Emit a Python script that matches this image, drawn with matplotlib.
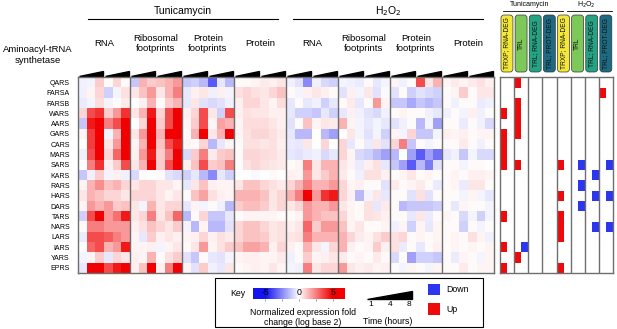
import numpy as np
import matplotlib
matplotlib.use('Agg')
import matplotlib.pyplot as plt
from matplotlib.colors import LinearSegmentedColormap, Normalize
from matplotlib.patches import Rectangle, Polygon, FancyBboxPatch

plt.rcParams['font.family'] = ['Liberation Sans', 'DejaVu Sans']

genes = ['QARS', 'FARSA', 'FARSB', 'WARS', 'AARS', 'GARS', 'CARS', 'MARS', 'SARS', 'KARS',
         'RARS', 'HARS', 'DARS', 'TARS', 'NARS', 'LARS', 'IARS', 'YARS', 'EPRS']
block_labels = ['RNA', 'Ribosomal\nfootprints', 'Protein\nfootprints', 'Protein'] * 2
treatments = ['Tunicamycin', 'H$_2$O$_2$']

# log2 fold change, 6 columns per block: replicate 1 (1, 4, 8 h), replicate 2 (1, 4, 8 h)
tun_rna = [
    [-0.3, -0.2, 1.0, 0.1, 0.8, 0.1],
    [-0.3, 0.2, 0.8, -1.0, -0.2, 0.6],
    [-0.4, -0.2, 0.7, -0.2, 0.1, 0.4],
    [0.8, 3.5, 4.0, 1.0, 2.0, 4.0],
    [-1.2, 4.5, 5.0, 2.5, 3.5, 5.0],
    [0.2, 3.8, 5.0, -0.2, 1.5, 5.0],
    [0.0, 3.8, 5.0, 0.5, 2.0, 5.0],
    [-0.3, 3.5, 5.0, 0.8, 3.0, 5.0],
    [0.0, 2.5, 4.0, 0.3, 1.0, 3.5],
    [-1.2, -0.3, 1.0, -0.2, 0.3, -0.3],
    [0.2, 1.5, 2.2, 1.2, 1.5, 0.8],
    [0.5, 1.5, 1.2, 0.8, 0.8, 0.5],
    [0.2, 2.0, 1.5, 2.0, 1.0, 1.2],
    [-1.0, 3.5, 5.0, 2.0, 2.8, 4.5],
    [0.1, 2.5, 2.5, 2.0, 2.0, 2.0],
    [-0.4, 3.5, 3.5, 3.2, 2.5, 2.0],
    [0.0, 3.0, 3.5, 1.5, 2.0, 4.5],
    [-0.2, 0.2, 1.0, -0.5, 0.8, 0.5],
    [-0.5, 5.0, 5.0, 3.5, 4.5, 5.0],
]
tun_ribo = [
    [-1.2, 1.5, 1.0, 1.2, 1.5, 2.0],
    [0.5, 1.2, 2.0, 0.5, 1.5, 2.5],
    [0.0, 0.3, 1.5, 0.1, 1.0, 1.5],
    [0.5, 1.5, 4.5, 0.8, 3.5, 5.0],
    [0.0, 0.8, 5.0, 1.0, 3.5, 5.0],
    [0.5, 2.0, 5.0, 1.5, 5.0, 5.0],
    [0.2, 1.5, 5.0, 1.2, 3.5, 4.5],
    [0.3, 2.0, 4.5, 1.0, 2.5, 5.0],
    [0.5, 1.5, 5.0, 1.0, 3.5, 5.0],
    [-0.8, 0.1, 0.0, 0.1, -0.6, -0.8],
    [0.5, 0.8, 0.8, 0.5, 0.5, 0.2],
    [0.8, 0.8, 0.8, 0.5, 0.2, 0.5],
    [0.5, -0.2, 1.5, 0.5, 0.8, 0.8],
    [0.5, 0.8, 2.5, 0.5, 1.2, 3.0],
    [0.3, 0.6, 1.2, 0.8, 0.5, 1.0],
    [0.2, -0.5, 1.0, 0.3, 0.5, 0.3],
    [0.2, 0.2, 0.3, -0.2, 0.2, 0.5],
    [0.3, 0.2, 1.5, 0.1, 0.6, 1.0],
    [0.3, 1.2, 5.0, 0.3, 2.5, 5.0],
]
tun_protfp = [
    [-1.2, -1.0, -1.5, -3.5, -0.5, -1.5],
    [-0.5, 0.3, 0.5, -0.3, 0.3, -0.2],
    [-0.5, 0.5, -0.6, -0.8, -0.6, -0.3],
    [0.3, 0.8, 3.5, 0.5, -1.0, 3.5],
    [0.2, 1.0, 3.5, 0.2, 1.8, 1.5],
    [0.1, 1.5, 5.0, 0.5, 1.5, 5.0],
    [0.2, 0.1, 0.8, -1.5, -0.5, 0.2],
    [-0.8, 1.0, 2.5, 0.4, 1.0, 1.2],
    [0.3, 1.2, 3.5, 1.0, 1.2, 2.5],
    [-1.0, -0.5, -1.5, -2.5, -0.5, -1.0],
    [-0.5, 0.5, 1.2, 0.3, 0.2, 0.2],
    [0.1, 1.2, 1.8, 0.6, 0.3, 0.2],
    [-0.5, 0.2, -0.2, 0.1, -0.3, -1.5],
    [-1.5, 0.1, 0.8, -1.2, -1.2, -0.5],
    [-0.2, -1.5, 0.2, -1.5, -1.5, -0.6],
    [0.2, 0.3, 0.8, 0.3, 0.6, 0.4],
    [0.1, 0.5, 2.0, 0.2, 0.6, 1.0],
    [-0.6, -1.2, 0.1, -0.5, -0.6, -0.2],
    [0.2, -0.6, 1.0, -0.3, -0.5, 0.5],
]
tun_prot = [
    [0.1, 0.1, 0.2, 0.4, 0.3, 0.5],
    [0.6, 0.8, 0.6, 0.5, 0.8, 1.2],
    [0.3, 0.8, 0.8, 0.5, 0.2, 0.7],
    [0.3, 0.6, 0.5, 0.5, 0.3, 0.3],
    [0.2, 0.7, 0.7, 0.7, 0.5, 0.3],
    [0.2, 0.6, 0.8, 0.8, 0.6, 0.4],
    [0.1, 0.6, 0.6, 0.5, 0.6, 0.3],
    [0.1, 0.8, 0.8, 0.7, 0.6, 0.4],
    [0.1, 0.6, 0.8, 0.6, 0.5, 0.4],
    [0.0, 0.0, -0.1, 0.0, 0.1, 0.0],
    [0.5, 1.2, 1.2, 0.8, 0.6, 0.4],
    [1.5, 1.5, 1.5, 1.2, 0.5, 0.8],
    [1.0, 1.3, 1.3, 1.0, 0.5, 0.8],
    [0.1, 0.2, 0.2, 0.2, 0.2, 0.1],
    [0.8, 1.2, 1.2, 0.8, 0.5, 0.6],
    [0.8, 1.2, 1.2, 1.0, 0.5, 0.6],
    [1.2, 1.8, 1.8, 1.5, 0.3, 0.8],
    [0.2, 0.3, 0.3, 0.2, 0.2, 0.4],
    [0.1, 0.2, 0.3, 0.2, 0.5, 0.2],
]
h2o2_rna = [
    [-0.3, -0.6, -2.5, -0.3, -0.8, -1.0],
    [0.1, -0.2, 0.3, 0.5, 0.3, 0.1],
    [-0.5, 0.1, -0.5, -0.3, -1.0, -0.5],
    [-0.5, -1.0, -1.0, -1.2, -0.5, -1.0],
    [-0.6, 0.1, 1.2, 0.2, 0.5, 0.4],
    [-0.5, -1.5, -1.5, 0.0, -1.5, -2.0],
    [-0.4, -0.5, 0.5, 0.0, 0.8, 0.0],
    [-0.5, -0.6, -0.4, -0.3, -0.8, -0.5],
    [0.1, 0.2, 2.5, 0.5, 1.5, 1.5],
    [0.3, 0.2, 2.0, 0.5, 1.0, 1.5],
    [0.8, 1.5, 2.5, 1.5, 1.5, 2.0],
    [1.5, 2.5, 5.0, 2.0, 4.0, 4.5],
    [0.5, 0.8, 2.0, 1.5, 1.5, 2.0],
    [0.1, 0.2, 2.0, 1.5, 1.2, 1.2],
    [0.3, 0.5, 3.0, 1.0, 2.0, 2.0],
    [0.5, 0.6, 2.5, 1.5, 1.5, 1.5],
    [0.3, 0.1, 1.5, 0.5, -0.2, 0.8],
    [-0.3, 0.1, 1.0, 0.2, 0.3, 0.5],
    [-0.2, -0.3, 2.5, 0.5, 0.8, 0.8],
]
h2o2_ribo = [
    [-0.2, -0.3, -0.4, 0.1, -0.5, -0.2],
    [-0.6, 0.3, -0.2, 0.5, -0.6, -0.1],
    [0.1, 0.4, -0.5, 0.1, 2.0, 0.2],
    [-0.5, 0.3, -0.3, -0.6, -0.8, -0.3],
    [1.5, 0.2, -0.2, -0.5, -0.2, -0.5],
    [0.0, 0.5, -0.2, -0.6, -0.2, -1.0],
    [0.8, -0.5, 0.1, -0.4, 0.5, -0.6],
    [0.8, 0.2, -0.8, -1.0, -1.5, -2.0],
    [0.5, 0.2, -0.4, 0.3, 0.6, -0.5],
    [0.4, 0.1, -0.3, 0.6, 0.6, 0.3],
    [0.8, 0.2, 0.3, 0.1, 0.1, -0.6],
    [0.8, 0.3, -1.5, -0.2, 0.5, -0.5],
    [0.5, 0.2, 0.1, 0.6, -0.5, 0.4],
    [0.8, 0.2, 0.1, 0.6, 0.5, 0.3],
    [1.2, 0.2, 0.5, 0.1, 0.1, 0.2],
    [1.5, 0.8, 0.4, 0.2, 0.6, 1.0],
    [1.5, 0.3, 0.1, 0.2, 1.0, 0.3],
    [0.4, 0.1, 0.2, 0.1, 0.4, 0.1],
    [2.0, 0.5, 0.3, 0.4, 0.2, 0.3],
]
h2o2_protfp = [
    [0.2, -0.3, 0.1, 3.5, 0.5, 1.5],
    [-0.6, 0.1, -1.0, -0.6, -0.8, -1.0],
    [-1.2, -1.2, -1.8, -1.2, -1.5, -1.2],
    [0.1, 0.2, 0.1, 0.1, -0.3, -0.5],
    [-0.6, -0.3, 0.1, -1.5, -0.2, -2.0],
    [0.2, -0.2, 0.8, -1.2, -1.2, -0.2],
    [0.8, 2.5, -1.2, 0.1, -0.2, 0.1],
    [-1.5, 0.0, -2.0, -3.5, -2.0, -3.0],
    [-1.2, -2.0, -3.5, -1.5, -2.8, -0.6],
    [0.1, 0.2, 0.5, 0.1, 0.2, 0.1],
    [0.4, 0.1, 0.2, 0.4, 0.1, -0.4],
    [0.1, 0.1, -0.6, 0.6, -0.6, 0.1],
    [0.1, -1.5, -1.2, -1.2, -1.2, -1.0],
    [0.1, 0.1, -0.5, 0.5, -0.4, 0.1],
    [-0.3, 0.2, -1.0, 0.2, -0.5, 0.2],
    [0.6, 0.8, 0.1, 0.2, 0.1, 0.2],
    [0.6, -0.4, 0.1, -0.5, 0.1, 0.3],
    [-0.8, 0.1, -2.0, -1.0, -1.0, -1.2],
    [0.1, -0.2, 0.2, 0.1, -0.2, 0.2],
]
h2o2_prot = [
    [0.2, 0.4, 0.2, 0.4, 0.6, 0.3],
    [0.1, 0.2, 1.0, 0.1, 0.5, 0.5],
    [0.1, -0.3, 0.1, 0.1, -0.4, -0.3],
    [-0.3, 0.1, -0.2, 0.3, -0.3, 0.1],
    [0.1, 0.1, -0.4, 0.1, -0.3, -0.8],
    [0.3, 0.2, 0.3, 0.1, 0.2, 0.2],
    [0.1, 0.1, 0.4, 0.1, -0.3, 0.1],
    [-0.5, -0.3, -1.2, -0.2, -0.8, -0.8],
    [0.1, 0.1, -0.2, 0.1, 0.1, 0.0],
    [0.1, 0.2, 0.1, 0.3, 0.3, 0.2],
    [0.1, 0.2, -0.4, 0.5, 0.5, 0.1],
    [0.1, 0.1, -0.2, 0.2, -0.2, -0.5],
    [0.1, -0.5, 0.2, 0.1, 0.1, -0.2],
    [0.2, 0.1, -0.8, -0.2, -1.0, -0.2],
    [0.1, 0.1, -1.0, 0.1, -0.2, 0.1],
    [0.1, 0.2, 0.1, 0.6, 0.2, -0.3],
    [0.1, 0.2, 0.1, 0.2, 0.1, 0.2],
    [0.1, -0.4, 0.2, 0.1, -0.2, 0.2],
    [0.1, 0.1, 0.4, 0.1, 0.2, 0.2],
]

# right panel: regulatory classes, rows flagged up / down
class_labels = ['TRXP; RNA-DEG', 'TRL', 'TRL; RNA-DEG', 'TRL; PROT-DEG'] * 2
class_colors = ['#f3e83a', '#7cc95a', '#23a383', '#1d6a83'] * 2
up_rows = [[3, 5, 6, 7, 8, 13, 16, 18], [0, 2, 3, 4, 5, 8, 17], [], [],
           [8, 11, 13, 14, 15, 18], [], [], [1]]
down_rows = [[], [16], [], [], [], [8, 10, 12], [9, 11, 14], [8, 11, 14]]

data = np.hstack([np.array(b) for b in [tun_rna, tun_ribo, tun_protfp, tun_prot,
                                        h2o2_rna, h2o2_ribo, h2o2_protfp, h2o2_prot]])

cmap = LinearSegmentedColormap.from_list('key', ['#1414f0', '#ffffff', '#f00000'])
norm = Normalize(vmin=-5, vmax=5)
red, blue = '#ee0a0a', '#2b36ee'
grid_col = '#6e6e6e'

W, H = 617, 329
fig = plt.figure(figsize=(W / 100, H / 100), dpi=100)

def box(x0, y0, x1, y1):
    # pixel box (top-left origin) -> figure fraction rect
    return [x0 / W, 1 - y1 / H, (x1 - x0) / W, (y1 - y0) / H]

# overlay in pixel coordinates for headers and the key
ax0 = fig.add_axes([0, 0, 1, 1])
ax0.set_xlim(0, W)
ax0.set_ylim(H, 0)
ax0.axis('off')

# heatmap
ax = fig.add_axes(box(78, 77.3, 494, 273))
ax.imshow(data, cmap=cmap, norm=norm, aspect='auto', interpolation='nearest')
ax.set_xticks([])
ax.set_yticks(range(len(genes)))
ax.set_yticklabels(genes, fontsize=5)
ax.tick_params(axis='y', length=0, pad=6)
for s in ax.spines.values():
    s.set_color(grid_col)
    s.set_linewidth(1)
for b in range(1, 8):
    ax.axvline(6 * b - 0.5, color=grid_col, lw=1)
# time wedges above each replicate
for g in range(16):
    x0 = 3 * g - 0.5 + 0.12
    x1 = 3 * g + 2.5 - 0.12
    ax.add_patch(Polygon([(x0, -0.62), (x1, -0.62), (x1, -1.15)], closed=True,
                         color='black', clip_on=False))

# right panel
axr = fig.add_axes(box(500, 77.3, 613, 273))
axr.set_xlim(0, 8)
axr.set_ylim(len(genes), 0)
axr.set_xticks([])
axr.set_yticks([])
for s in axr.spines.values():
    s.set_color(grid_col)
    s.set_linewidth(1)
for c in range(1, 8):
    axr.axvline(c, color=grid_col, lw=1)
for c in range(8):
    for r in up_rows[c]:
        axr.add_patch(Rectangle((c, r), 0.5, 1, color=red, lw=0))
    for r in down_rows[c]:
        axr.add_patch(Rectangle((c + 0.5, r), 0.5, 1, color=blue, lw=0))

# class header boxes
cw = 113 / 8
for i, (lab, col) in enumerate(zip(class_labels, class_colors)):
    x = 500 + i * cw
    ax0.add_patch(FancyBboxPatch((x + 1.0, 15), cw - 2.2, 57,
                                 boxstyle='round,pad=0,rounding_size=3',
                                 facecolor=col, edgecolor='#333333', lw=0.5))
    ax0.text(x + cw / 2 - 0.1, 43.5, lab, rotation=90, ha='center', va='center',
             fontsize=4.8, color='#111111')
ax0.text(530, 5, 'Tunicamycin', ha='center', va='center', fontsize=5)
ax0.text(586, 5, 'H$_2$O$_2$', ha='center', va='center', fontsize=5)
ax0.plot([503, 563], [10.5, 10.5], color='black', lw=0.6)
ax0.plot([567, 612], [10.5, 10.5], color='black', lw=0.6)

# heatmap headers
for t, (xa, xb) in enumerate([(88, 278), (293, 483)]):
    ax0.text((xa + xb) / 2, 11, treatments[t], ha='center', va='center', fontsize=7.5)
    ax0.plot([xa, xb], [19, 19], color='black', lw=0.8)
for b, lab in enumerate(block_labels):
    ax0.text(78 + 26 + 52 * b, 43.5, lab, ha='center', va='center', fontsize=6.8,
             linespacing=1.2)
ax0.text(38, 55, 'Aminoacyl-tRNA\nsynthetase', ha='center', va='center', fontsize=6.8,
         linespacing=1.25)

# key box
ax0.add_patch(Rectangle((215, 278), 268, 49, fill=False, edgecolor='black', lw=0.8))
ax0.text(238, 294, 'Key', ha='center', va='center', fontsize=6.3)
axk = fig.add_axes(box(253, 288, 345, 299))
kx = np.linspace(-6.8, 6.8, 200)
axk.imshow(kx[None, :], cmap=cmap, norm=norm, aspect='auto',
           extent=[-6.8, 6.8, 0, 1])
axk.set_xlim(-6.8, 6.8)
axk.set_ylim(0, 1)
axk.set_yticks([])
axk.set_xticks([-5, -2.5, 0, 2.5, 5])
axk.set_xticklabels([])
axk.tick_params(axis='x', length=1.5, width=0.5, color='#777777')
for s in axk.spines.values():
    s.set_visible(False)
for v in [-5, 0, 5]:
    axk.text(v, 0.55, str(v), ha='center', va='center', fontsize=6.3, color='black',
             zorder=5)
ax0.text(303, 317.5, 'Normalized expression fold\nchange (log base 2)', ha='center',
         va='center', fontsize=6.3, linespacing=1.15)
ax0.add_patch(Polygon([(367, 299), (412, 299), (412, 291)], closed=True, color='black'))
for tx, tl in zip([371, 390, 409], ['1', '4', '8']):
    ax0.text(tx, 304.5, tl, ha='center', va='center', fontsize=6)
ax0.text(388, 321, 'Time (hours)', ha='center', va='center', fontsize=6.3)
ax0.add_patch(Rectangle((428, 284), 12, 11, color=blue, lw=0))
ax0.add_patch(Rectangle((428, 303), 12, 12, color=red, lw=0))
ax0.text(446, 289, 'Down', ha='left', va='center', fontsize=6.3)
ax0.text(446, 309, 'Up', ha='left', va='center', fontsize=6.3)

fig.savefig('out.png', dpi=100)
